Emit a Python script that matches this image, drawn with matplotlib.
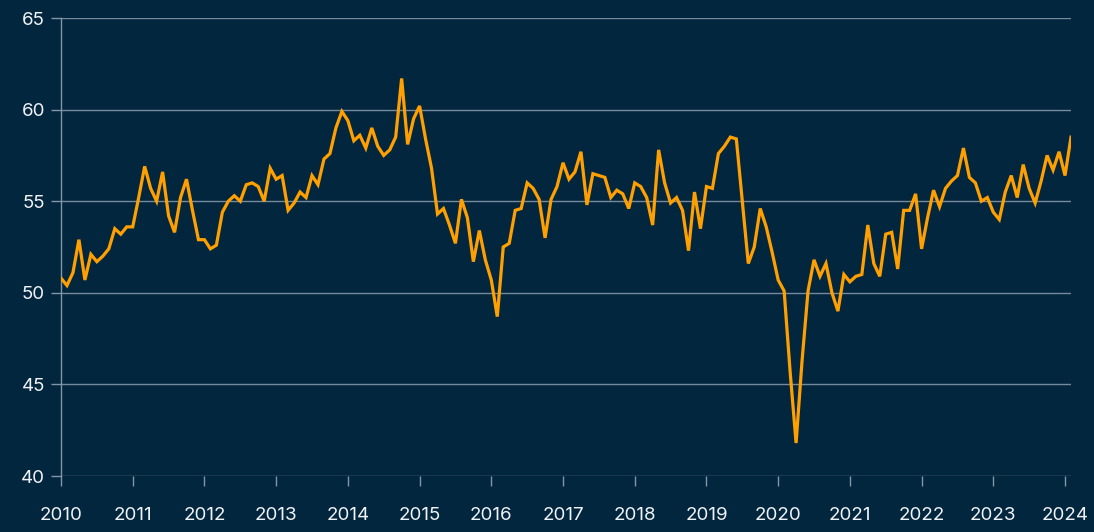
import matplotlib
matplotlib.use("Agg")
import matplotlib.pyplot as plt
import numpy as np

# Monthly index readings, Jan 2010 - Feb 2024
v2010 = [50.8, 50.4, 51.1, 52.9, 50.7, 52.1, 51.7, 52.0, 52.4, 53.5, 53.2, 53.6]
v2011 = [53.6, 55.2, 56.9, 55.7, 55.0, 56.6, 54.2, 53.3, 55.2, 56.2, 54.5, 52.9]
v2012 = [52.9, 52.4, 52.6, 54.4, 55.0, 55.3, 55.0, 55.9, 56.0, 55.8, 55.0, 56.8]
v2013 = [56.2, 56.4, 54.5, 54.9, 55.5, 55.2, 56.4, 55.9, 57.3, 57.6, 59.0, 59.9]
v2014 = [59.4, 58.3, 58.6, 57.9, 59.0, 58.0, 57.5, 57.8, 58.5, 61.7, 58.1, 59.5]
v2015 = [60.2, 58.4, 56.8, 54.3, 54.6, 53.7, 52.7, 55.1, 54.1, 51.7, 53.4, 51.8]
v2016 = [50.7, 48.7, 52.5, 52.7, 54.5, 54.6, 56.0, 55.7, 55.1, 53.0, 55.1, 55.8]
v2017 = [57.1, 56.2, 56.6, 57.7, 54.8, 56.5, 56.4, 56.3, 55.2, 55.6, 55.4, 54.6]
v2018 = [56.0, 55.8, 55.2, 53.7, 57.8, 56.0, 54.9, 55.2, 54.5, 52.3, 55.5, 53.5]
v2019 = [55.8, 55.7, 57.6, 58.0, 58.5, 58.4, 55.0, 51.6, 52.5, 54.6, 53.6, 52.2]
v2020 = [50.7, 50.1, 45.7, 41.8, 46.3, 50.1, 51.8, 50.9, 51.6, 50.0, 49.0, 51.0]
v2021 = [50.6, 50.9, 51.0, 53.7, 51.6, 50.9, 53.2, 53.3, 51.3, 54.5, 54.5, 55.4]
v2022 = [52.4, 54.1, 55.6, 54.7, 55.7, 56.1, 56.4, 57.9, 56.3, 56.0, 55.0, 55.2]
v2023 = [54.4, 54.0, 55.5, 56.4, 55.2, 57.0, 55.7, 54.9, 56.1, 57.5, 56.7, 57.7]
v2024 = [56.4, 58.5]

years = list(range(2010, 2025))
yticks = [40, 45, 50, 55, 60, 65]

values = np.array(v2010 + v2011 + v2012 + v2013 + v2014 + v2015 + v2016 + v2017
                  + v2018 + v2019 + v2020 + v2021 + v2022 + v2023 + v2024)
months = np.arange(len(values))

BG = "#03263f"
GRID = "#8296a7"
TEXT = "#f0f3f5"
LINE = "#ffa000"

plt.rcParams["font.family"] = ["Inter", "DejaVu Sans"]

fig = plt.figure(figsize=(10.94, 5.32), dpi=100, facecolor=BG)
ax = fig.add_axes([61 / 1094, 1 - 476 / 532, 1010 / 1094, 458 / 532])
ax.set_facecolor(BG)

ax.plot(months, values, color=LINE, lw=2.3, solid_joinstyle="miter", zorder=3)

ax.set_xlim(0, len(values) - 1)
ax.set_ylim(40, 65)
ax.set_yticks(yticks)
ax.set_xticks([12 * (y - 2010) for y in years])
ax.set_xticklabels([str(y) for y in years])

ax.grid(axis="y", color=GRID, lw=1.0, alpha=0.9)
for s in ["top", "right", "bottom"]:
    ax.spines[s].set_visible(False)
ax.spines["left"].set_color(GRID)
ax.spines["left"].set_linewidth(1.0)

ax.tick_params(axis="y", length=7.5, width=1.0, color=GRID, labelcolor=TEXT,
               labelsize=13.5, pad=4)
ax.tick_params(axis="x", length=7.5, width=1.0, color=GRID, labelcolor=TEXT,
               labelsize=13.5, pad=15)
for lbl in ax.get_xticklabels():
    lbl.set_clip_on(False)

fig.savefig("out.png", dpi=100, facecolor=BG)
